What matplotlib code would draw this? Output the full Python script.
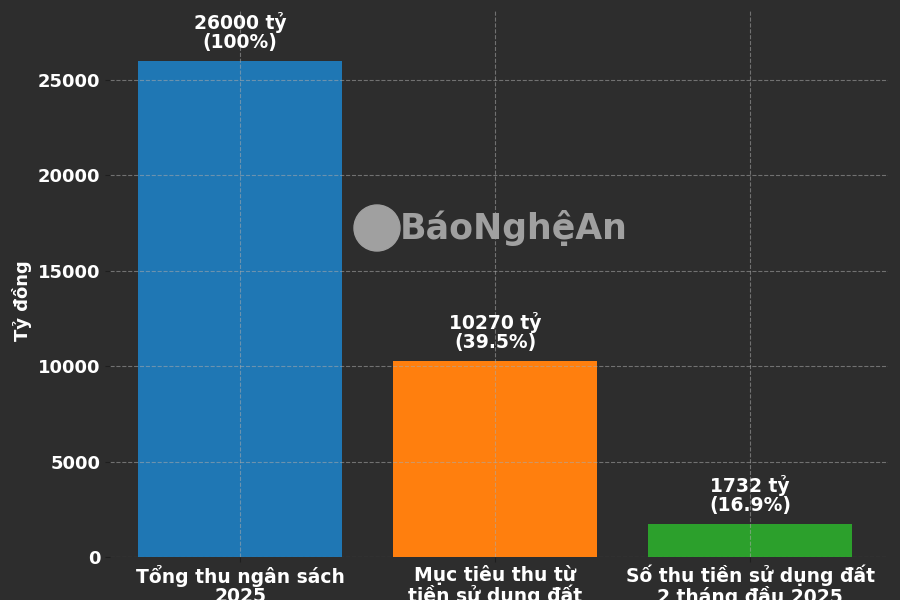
import matplotlib.pyplot as plt
from matplotlib.patches import Ellipse

categories = [
    "Tổng thu ngân sách\n2025",
    "Mục tiêu thu từ\ntiền sử dụng đất\n2025",
    "Số thu tiền sử dụng đất\n2 tháng đầu 2025",
]
values = [26000, 10270, 1732]
percents = ["100%", "39.5%", "16.9%"]
colors = ["#1f77b4", "#ff7f0e", "#2ca02c"]

bg = "#2d2d2d"

fig = plt.figure(figsize=(9, 6), dpi=100, facecolor=bg)
ax = fig.add_axes([110 / 900, 43 / 600, 778 / 900, 546 / 600], facecolor=bg)

x = list(range(len(categories)))
ax.bar(x, values, width=0.8, color=colors, zorder=1)

# value + share above each bar
for xi, v, p in zip(x, values, percents):
    ax.text(xi, v + 450, f"{v} tỷ\n({p})", ha="center", va="bottom",
            color="white", fontsize=13.5, fontweight="bold", linespacing=1.0)

ax.set_xlim(-0.51, 2.54)
ax.set_ylim(0, 28600)
ax.set_xticks(x)
ax.set_xticklabels(categories, color="white", fontsize=13.5, fontweight="bold",
                   linespacing=1.0)
ax.set_yticks([0, 5000, 10000, 15000, 20000, 25000])
ax.tick_params(axis="y", colors="#1e1e1e", labelcolor="white", labelsize=13)
ax.tick_params(axis="x", colors="#1e1e1e", labelcolor="white", pad=2)
for lbl in ax.get_yticklabels():
    lbl.set_fontweight("bold")
ax.set_ylabel("Tỷ đồng", color="white", fontsize=13, fontweight="bold")
ax.yaxis.set_label_coords(-0.100, 0.47)

ax.grid(True, linestyle="--", color="#aaaaaa", alpha=0.55, linewidth=0.8, zorder=2)
ax.set_axisbelow(False)
for s in ax.spines.values():
    s.set_visible(False)

# newspaper watermark
logo = Ellipse((377 / 900, 372 / 600), 46 / 900, 46 / 600, transform=fig.transFigure,
               color="#a0a0a0", zorder=5)
fig.patches.append(logo)
fig.text(400 / 900, 372 / 600, "BáoNghệAn", color="#a0a0a0", fontsize=25,
         fontweight="bold", va="center", ha="left")

fig.savefig("out.png", dpi=100, facecolor=bg)
